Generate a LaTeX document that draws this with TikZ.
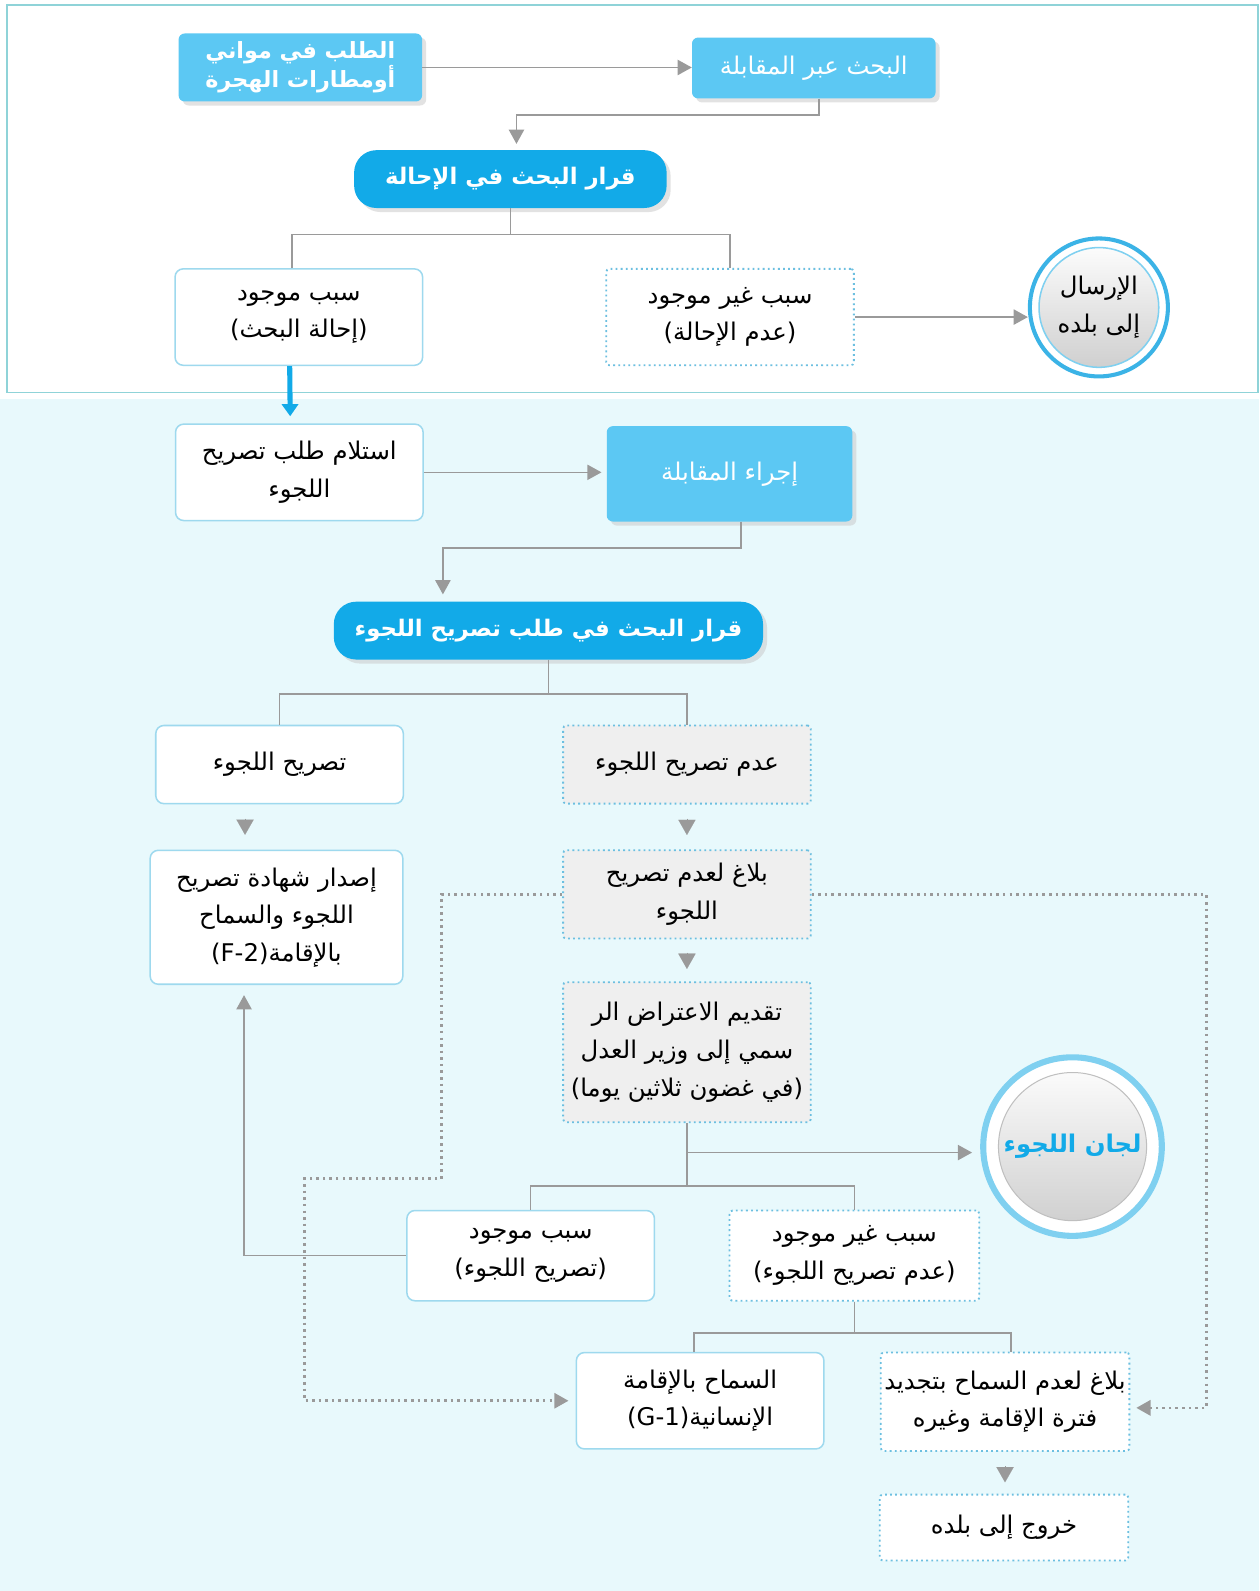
\documentclass[tikz,border=0pt]{standalone}
\usepackage{fontspec}
\usetikzlibrary{arrows.meta,shadows}
\newfontfamily\arabicfont[Script=Arabic]{DejaVu Sans}
\TeXXeTstate=1
\newcommand{\rtl}[1]{\beginR #1\endR}
\newcommand{\ltr}[1]{\beginL #1\endL}
\definecolor{panelline}{HTML}{8FD3D8}
\definecolor{panelbg}{HTML}{E8F9FC}
\definecolor{skyfill}{HTML}{5CC8F3}
\definecolor{deepblue}{HTML}{12AAE8}
\definecolor{boxline}{HTML}{9ED9EE}
\definecolor{dotline}{HTML}{6CBFE0}
\definecolor{greyfill}{HTML}{EFEFEF}
\definecolor{linkgrey}{HTML}{9A9A9A}
\definecolor{ringblue}{HTML}{3BB3E6}
\definecolor{ringlight}{HTML}{7FD0F0}
\tikzset{
  every node/.style={font=\arabicfont\fontsize{24}{37}\selectfont, align=center, inner sep=0pt},
  sky/.style={rectangle, rounded corners=6pt, fill=skyfill, text=white, minimum width=240pt,
    drop shadow={shadow xshift=4pt, shadow yshift=-4pt, fill=black!22}},
  pill/.style={rectangle, rounded corners=22pt, fill=deepblue, text=white, minimum height=57pt,
    font=\arabicfont\bfseries\fontsize{22.5}{36}\selectfont,
    drop shadow={shadow xshift=4pt, shadow yshift=-4pt, fill=black!22}},
  plain/.style={rectangle, rounded corners=8pt, fill=white, draw=boxline, line width=1.5pt, minimum width=244pt},
  dotbox/.style={rectangle, rounded corners=3pt, fill=white, draw=dotline, line width=1.8pt,
    dash pattern=on 1.8pt off 3.2pt, minimum width=244pt},
  greybox/.style={dotbox, fill=greyfill},
  link/.style={draw=linkgrey, line width=1.6pt},
  conn/.style={link, -{Triangle[width=15pt,length=14pt]}},
  dots/.style={draw=linkgrey, line width=2.5pt, dash pattern=on 2.5pt off 4pt, -{Triangle[width=15pt,length=14pt]}},
  headonly/.style={draw=linkgrey, line width=0.1pt, -{Triangle[width=17pt,length=15pt]}},
  ring/.style={circle, fill=white, draw=ringblue, line width=4pt, minimum size=136pt,
    path picture={\shade[top color=white, bottom color=black!20, draw=ringlight, line width=1.5pt]
      (path picture bounding box.center) circle (59pt);}},
  bigring/.style={circle, fill=white, draw=ringlight, line width=6pt, minimum size=176pt, text=deepblue,
    font=\arabicfont\bfseries\fontsize{24}{36}\selectfont,
    path picture={\shade[top color=white, bottom color=black!20, draw=black!25, line width=1pt]
      (path picture bounding box.center) circle (73pt);}}
}
\begin{document}
\begin{tikzpicture}[x=1pt, y=-1pt]
\useasboundingbox (0,0) rectangle (1241,1568);
\fill[panelbg] (0,393) rectangle (1241,1568);
\draw[panelline, line width=1.5pt, fill=white] (7,5) rectangle (1240,387);

\node[sky, minimum height=67pt, font=\arabicfont\bfseries\fontsize{22}{26}\selectfont] (A) at (296,66.5) {\rtl{الطلب في مواني}\\\rtl{أومطارات الهجرة}};
\node[sky, minimum height=60pt] (B) at (802,67) {\rtl{البحث عبر المقابلة}};
\node[pill, minimum width=308pt] (C) at (503,176.5) {\rtl{قرار البحث في الإحالة}};
\node[plain, minimum height=95pt] (D) at (294.5,312.5) {\rtl{سبب موجود}\\\rtl{(إحالة البحث)}};
\node[dotbox, minimum height=95pt] (E) at (719.5,312.5) {\rtl{سبب غير موجود}\\\rtl{(عدم الإحالة)}};
\node[ring] (F) at (1083,303) {\rtl{الإرسال}\\\rtl{إلى بلده}};

\node[plain, minimum height=95pt] (G) at (295,465.5) {\rtl{استلام طلب تصريح}\\\rtl{اللجوء}};
\node[sky, minimum width=242pt, minimum height=94pt] (H) at (719,467) {\rtl{إجراء المقابلة}};
\node[pill, minimum width=423pt] (I) at (540.5,621.5) {\rtl{قرار البحث في طلب تصريح اللجوء}};
\node[plain, minimum height=77pt] (J) at (275.5,753.5) {\rtl{تصريح اللجوء}};
\node[greybox, minimum height=77pt] (K) at (677,753.5) {\rtl{عدم تصريح اللجوء}};
\node[plain, minimum width=249pt, minimum height=132pt] (L) at (272.5,904) {\rtl{إصدار شهادة تصريح}\\\rtl{اللجوء والسماح}\\\rtl{بالإقامة\ltr{(F-2)}}};
\node[greybox, minimum height=87pt] (M) at (677,881.5) {\rtl{بلاغ لعدم تصريح}\\\rtl{اللجوء}};
\node[greybox, minimum height=138pt] (N) at (677,1037) {\rtl{تقديم الاعتراض الر}\\\rtl{سمي إلى وزير العدل}\\\rtl{(في غضون ثلاثين يوما)}};
\node[bigring] (O) at (1057,1130) {\rtl{لجان اللجوء}};
\node[plain, minimum height=89pt] (P) at (523,1237.5) {\rtl{سبب موجود}\\\rtl{(تصريح اللجوء)}};
\node[dotbox, minimum width=246pt, minimum height=89pt] (Q) at (842,1237.5) {\rtl{سبب غير موجود}\\\rtl{(عدم تصريح اللجوء)}};
\node[plain, minimum height=95pt] (R) at (690,1380.5) {\rtl{السماح بالإقامة}\\\rtl{الإنسانية\ltr{(G-1)}}};
\node[dotbox, minimum width=245pt, minimum height=97pt] (S) at (990.5,1381.5) {\rtl{بلاغ لعدم السماح بتجديد}\\\rtl{فترة الإقامة وغيره}};
\node[dotbox, minimum width=245pt, minimum height=65pt] (T) at (989.5,1505.5) {\rtl{خروج إلى بلده}};

\draw[conn] (A.east) -- (A.east -| B.west);
\draw[conn] ([xshift=5pt]B.south) -- ++(0,16) -| ([xshift=6pt,yshift=6pt]C.north);
\draw[link] (C.south) -- ++(0,26) coordinate (c1);
\draw[link] ([xshift=-7pt]D.north) |- (c1) -| (E.north);
\draw[conn] (E.east) -- (E.east -| F.west);
\draw[deepblue, line width=5pt, -{Triangle[width=16pt,length=12pt]}] ([xshift=-9pt]D.south) -- ([xshift=-9pt,yshift=7pt]G.north);

\draw[conn] (G.east) -- ([xshift=-5pt]G.east -| H.west);
\draw[conn] (H.south) ++(11,0) -- ++(0,26) -| ([xshift=-104pt,yshift=7pt]I.north);
\draw[link] (I.south) -- ++(0,34) coordinate (i1);
\draw[link] (J.north) |- (i1) -| (K.north);
\draw[headonly] ([xshift=-34pt,yshift=-14pt]J.south) -- ++(0,16);
\draw[headonly] ([yshift=-14pt]K.south) -- ++(0,16);
\draw[headonly] ([yshift=-13pt]M.south) -- ++(0,16);
\draw[headonly] ([yshift=-14pt]S.south) -- ++(0,16);

\draw[link] (N.south) -- ++(0,62) coordinate (n1);
\draw[conn] (N.south) ++(0,29) -- ++(281,0);
\draw[link] (P.north) |- (n1) -| (Q.north);
\draw[conn] (P.west) -| ([xshift=-32pt,yshift=-10pt]L.south);
\draw[link] (Q.south) -- ++(0,31) coordinate (q1);
\draw[link] ([xshift=-6pt]R.north) |- (q1) -| ([xshift=6pt]S.north);

\draw[dots] (M.west) -- ++(-119,0) |- ++(-135,280) |- ([xshift=-7pt]R.west);
\draw[dots] (M.east) -- ++(389,0) |- ([xshift=6pt,yshift=-6pt]S.east);
\end{tikzpicture}
\end{document}
